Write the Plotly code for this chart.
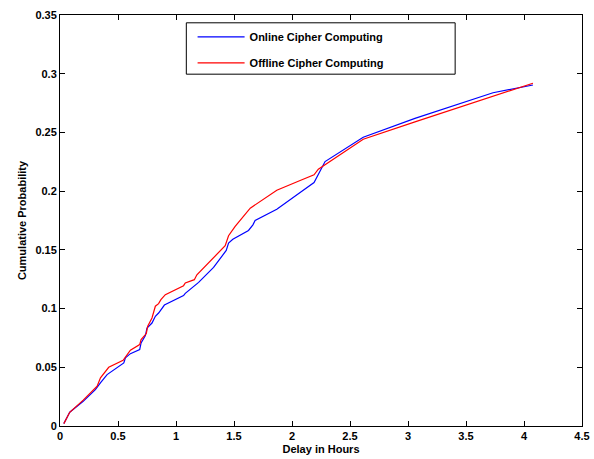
import plotly.graph_objects as go

online_x = [0.033, 0.084, 0.2, 0.305, 0.35, 0.406, 0.55, 0.564, 0.607, 0.687, 0.699, 0.736, 0.75,
            0.793, 0.822, 0.85, 0.9, 1.065, 1.08, 1.195, 1.324, 1.433, 1.453, 1.49, 1.625, 1.663,
            1.682, 1.869, 2.07, 2.19, 2.285, 2.614, 3.06, 3.733, 4.077]
online_y = [0.002, 0.0117, 0.021, 0.031, 0.037, 0.0438, 0.0537, 0.058, 0.0616, 0.065, 0.0707, 0.077,
            0.0835, 0.0877, 0.0934, 0.0962, 0.103, 0.111, 0.113, 0.1223, 0.135, 0.1495, 0.1558, 0.159,
            0.1665, 0.1713, 0.175, 0.1845, 0.1988, 0.2073, 0.2252, 0.2459, 0.262, 0.2838, 0.2904]

offline_x = [0.033, 0.084, 0.2, 0.32, 0.349, 0.42, 0.544, 0.607, 0.687, 0.699, 0.744, 0.756, 0.793,
             0.822, 0.85, 0.87, 0.908, 1.065, 1.08, 1.158, 1.18, 1.324, 1.424, 1.453, 1.49, 1.51,
             1.64, 1.869, 2.07, 2.19, 2.227, 2.614, 3.06, 4.077]
offline_y = [0.002, 0.0117, 0.022, 0.0339, 0.041, 0.05, 0.056, 0.0645, 0.0693, 0.0736, 0.0787, 0.0849,
             0.092, 0.102, 0.1042, 0.1076, 0.1118, 0.1195, 0.1218, 0.1246, 0.1288, 0.143, 0.1535, 0.162,
             0.167, 0.17, 0.1855, 0.2008, 0.209, 0.2139, 0.2187, 0.2442, 0.259, 0.2919]

x_ticks = [0, 0.5, 1, 1.5, 2, 2.5, 3, 3.5, 4, 4.5]
x_tick_labels = ["0", "0.5", "1", "1.5", "2", "2.5", "3", "3.5", "4", "4.5"]
y_ticks = [0, 0.05, 0.1, 0.15, 0.2, 0.25, 0.3, 0.35]
y_tick_labels = ["0", "0.05", "0.1", "0.15", "0.2", "0.25", "0.3", "0.35"]

FONT = "Liberation Sans, Arial, sans-serif"

fig = go.Figure()
fig.add_trace(go.Scatter(x=online_x, y=online_y, mode="lines", name="Online Cipher Computing",
                         line=dict(color="#0000ff", width=1.2), legendgroup="a"))
fig.add_trace(go.Scatter(x=offline_x, y=offline_y, mode="lines", name="Offline Cipher Computing",
                         line=dict(color="#ff0000", width=1.2), legendgroup="b"))

axis_common = dict(showline=True, linecolor="black", linewidth=1, mirror="ticks",
                   ticks="inside", ticklen=5, tickcolor="black", showgrid=False, zeroline=False,
                   automargin=False,
                   tickfont=dict(family=FONT, size=11, color="black", weight="bold"))

fig.update_xaxes(range=[0, 4.5], tickvals=x_ticks, ticktext=x_tick_labels,
                 title=dict(text="Delay in Hours", font=dict(family=FONT, size=11, color="black", weight="bold"),
                            standoff=4),
                 **axis_common)
fig.update_yaxes(range=[0, 0.35], tickvals=y_ticks, ticktext=y_tick_labels,
                 title=dict(text="Cumulative Probability", font=dict(family=FONT, size=11, color="black", weight="bold"),
                            standoff=6),
                 **axis_common)

fig.add_shape(type="rect", xref="paper", yref="paper", x0=0.242, x1=0.757, y0=0.856, y1=0.981,
              line=dict(color="black", width=1), fillcolor="white", layer="above")

fig.update_layout(
    width=594, height=459,
    margin=dict(l=59.5, r=12, t=15, b=32.5, autoexpand=False),
    paper_bgcolor="white", plot_bgcolor="white",
    font=dict(family=FONT, size=11, color="black"),
    legend=dict(x=0.254, y=0.982, xanchor="left", yanchor="top", bgcolor="rgba(0,0,0,0)",
                borderwidth=0, tracegroupgap=7, itemwidth=47,
                font=dict(family=FONT, size=11, color="black", weight="bold")),
    showlegend=True,
)

fig.write_html("out.html", config={"displayModeBar": False},
               post_script="document.body.style.margin='0';document.body.style.overflow='hidden';")
